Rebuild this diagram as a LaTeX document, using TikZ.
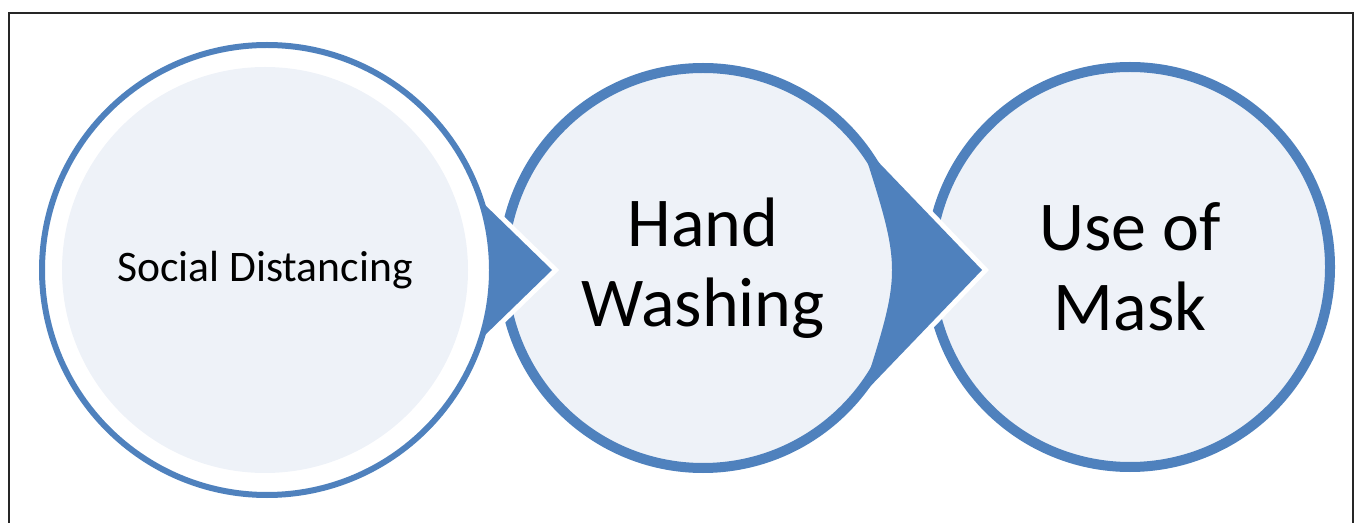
\documentclass[tikz,border=0pt]{standalone}
\usepackage{fontspec}
\setmainfont{Carlito}
\usetikzlibrary{calc}
\definecolor{ringblue}{HTML}{4F81BD}
\definecolor{softfill}{HTML}{EEF2F8}
\tikzstyle{ring}=[circle,draw=ringblue,line width=5pt,fill=softfill,minimum size=200pt,inner sep=0pt,align=center,font=\fontsize{35}{40}\selectfont]
\tikzstyle{thinring}=[circle,draw=ringblue,line width=3pt,minimum size=225pt,inner sep=0pt]
\tikzstyle{disc}=[circle,fill=softfill,minimum size=203pt,inner sep=0pt,font=\fontsize{21.8}{26}\selectfont]
\tikzstyle{chevron}=[fill=ringblue]
\tikzstyle{cut}=[draw=white,line width=5pt]

\begin{document}
\begin{tikzpicture}[x=0.5pt,y=-0.5pt]
    \useasboundingbox (0,0) rectangle (1358,523);
    % cadre
    \draw[black!85,line width=1pt] (9,523) -- (9,13) -- (1353,13) -- (1353,523);
    % cercles
    \node[disc] (social) at (265,270) {Social Distancing};
    \node[thinring] (socialring) at (267,270) {};
    \foreach \pos/\name/\txt in {{(703,268)/hand/{Hand\\Washing}}, {(1130,267)/mask/{Use of\\Mask}}}
        \node[ring] (\name) at \pos {\txt};
    % fleches
    \coordinate (top1) at (483,203);
    \coordinate (tip1) at (552,270);
    \coordinate (bot1) at (483,337);
    \coordinate (top2) at (862,145);
    \coordinate (tip2) at (982,270);
    \coordinate (bot2) at (862,395);
    \foreach \t/\p/\b/\c/\f in {top1/tip1/bot1/{(493,270)}/0.1, top2/tip2/bot2/{(902,270)}/0.35}
    {
        \path[cut] ($(\t)!\f!(\p)$) -- (\p) -- ($(\b)!\f!(\p)$);
        \path[chevron] (\t) -- (\p) -- (\b) .. controls \c .. (\t);
    }
\end{tikzpicture}
\end{document}
